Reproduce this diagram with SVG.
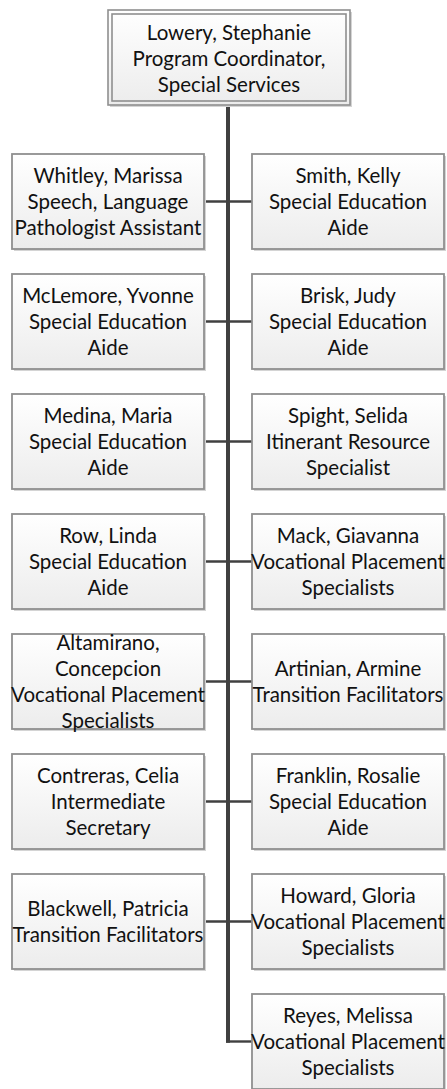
<svg xmlns="http://www.w3.org/2000/svg" width="447" height="1089" viewBox="0 0 447 1089">
<defs>
<linearGradient id="fillg" x1="0" y1="0" x2="0" y2="1">
<stop offset="0" stop-color="#ffffff"/>
<stop offset="1" stop-color="#ececec"/>
</linearGradient>
<style>
.bg{fill:#ffffff}
.box{fill:url(#fillg);stroke:#8f8f8f;stroke-width:1.8}
.shadow{fill:#d4d4d4}
.dbl{fill:none;stroke:#8f8f8f;stroke-width:1.6}
.t{font-family:Lato,"Liberation Sans",sans-serif;font-size:20.5px;fill:#111111;text-anchor:middle}
.trunk{stroke:#404040;stroke-width:4;fill:none}
.conn{stroke:#404040;stroke-width:2.4;fill:none}
</style>
</defs>
<rect class="bg" x="0" y="0" width="447" height="1089"/>

<g id="connectors">
<line class="trunk" x1="228" y1="105" x2="228" y2="1042.7"/>
<line class="conn" x1="204" y1="201.5" x2="252" y2="201.5"/>
<line class="conn" x1="204" y1="321.5" x2="252" y2="321.5"/>
<line class="conn" x1="204" y1="441.5" x2="252" y2="441.5"/>
<line class="conn" x1="204" y1="561.5" x2="252" y2="561.5"/>
<line class="conn" x1="204" y1="681.5" x2="252" y2="681.5"/>
<line class="conn" x1="204" y1="801.5" x2="252" y2="801.5"/>
<line class="conn" x1="204" y1="921.5" x2="252" y2="921.5"/>
<line class="conn" x1="226" y1="1041.5" x2="252" y2="1041.5"/>
</g>

<g id="n-lowery">
<rect class="shadow" x="110" y="12" width="242" height="95"/>
<rect x="108" y="10" width="242" height="95" fill="url(#fillg)"/>
<rect class="dbl" x="108" y="10" width="242" height="95"/>
<rect class="dbl" x="112" y="14" width="234" height="87"/>
<text class="t" x="229" y="39.5">Lowery, Stephanie</text>
<text class="t" x="229" y="65.5">Program Coordinator,</text>
<text class="t" x="229" y="91.5">Special Services</text>
</g>

<g id="n-whitley">
<rect class="shadow" x="14" y="156" width="192" height="95"/>
<rect class="box" x="12" y="154" width="192" height="95"/>
<text class="t" x="108" y="183">Whitley, Marissa</text>
<text class="t" x="108" y="209">Speech, Language</text>
<text class="t" x="108" y="235">Pathologist Assistant</text>
</g>
<g id="n-smith">
<rect class="shadow" x="254" y="156" width="192" height="95"/>
<rect class="box" x="252" y="154" width="192" height="95"/>
<text class="t" x="348" y="183">Smith, Kelly</text>
<text class="t" x="348" y="209">Special Education</text>
<text class="t" x="348" y="235">Aide</text>
</g>

<g id="n-mclemore">
<rect class="shadow" x="14" y="276" width="192" height="95"/>
<rect class="box" x="12" y="274" width="192" height="95"/>
<text class="t" x="108" y="303">McLemore, Yvonne</text>
<text class="t" x="108" y="329">Special Education</text>
<text class="t" x="108" y="355">Aide</text>
</g>
<g id="n-brisk">
<rect class="shadow" x="254" y="276" width="192" height="95"/>
<rect class="box" x="252" y="274" width="192" height="95"/>
<text class="t" x="348" y="303">Brisk, Judy</text>
<text class="t" x="348" y="329">Special Education</text>
<text class="t" x="348" y="355">Aide</text>
</g>

<g id="n-medina">
<rect class="shadow" x="14" y="396" width="192" height="95"/>
<rect class="box" x="12" y="394" width="192" height="95"/>
<text class="t" x="108" y="423">Medina, Maria</text>
<text class="t" x="108" y="449">Special Education</text>
<text class="t" x="108" y="475">Aide</text>
</g>
<g id="n-spight">
<rect class="shadow" x="254" y="396" width="192" height="95"/>
<rect class="box" x="252" y="394" width="192" height="95"/>
<text class="t" x="348" y="423">Spight, Selida</text>
<text class="t" x="348" y="449">Itinerant Resource</text>
<text class="t" x="348" y="475">Specialist</text>
</g>

<g id="n-row">
<rect class="shadow" x="14" y="516" width="192" height="95"/>
<rect class="box" x="12" y="514" width="192" height="95"/>
<text class="t" x="108" y="543">Row, Linda</text>
<text class="t" x="108" y="569">Special Education</text>
<text class="t" x="108" y="595">Aide</text>
</g>
<g id="n-mack">
<rect class="shadow" x="254" y="516" width="192" height="95"/>
<rect class="box" x="252" y="514" width="192" height="95"/>
<text class="t" x="348" y="543">Mack, Giavanna</text>
<text class="t" x="348" y="569">Vocational Placement</text>
<text class="t" x="348" y="595">Specialists</text>
</g>

<g id="n-altamirano">
<rect class="shadow" x="14" y="636" width="192" height="95"/>
<rect class="box" x="12" y="634" width="192" height="95"/>
<text class="t" x="108" y="650">Altamirano,</text>
<text class="t" x="108" y="676">Concepcion</text>
<text class="t" x="108" y="702">Vocational Placement</text>
<text class="t" x="108" y="728">Specialists</text>
</g>
<g id="n-artinian">
<rect class="shadow" x="254" y="636" width="192" height="95"/>
<rect class="box" x="252" y="634" width="192" height="95"/>
<text class="t" x="348" y="676">Artinian, Armine</text>
<text class="t" x="348" y="702">Transition Facilitators</text>
</g>

<g id="n-contreras">
<rect class="shadow" x="14" y="756" width="192" height="95"/>
<rect class="box" x="12" y="754" width="192" height="95"/>
<text class="t" x="108" y="783">Contreras, Celia</text>
<text class="t" x="108" y="809">Intermediate</text>
<text class="t" x="108" y="835">Secretary</text>
</g>
<g id="n-franklin">
<rect class="shadow" x="254" y="756" width="192" height="95"/>
<rect class="box" x="252" y="754" width="192" height="95"/>
<text class="t" x="348" y="783">Franklin, Rosalie</text>
<text class="t" x="348" y="809">Special Education</text>
<text class="t" x="348" y="835">Aide</text>
</g>

<g id="n-blackwell">
<rect class="shadow" x="14" y="876" width="192" height="95"/>
<rect class="box" x="12" y="874" width="192" height="95"/>
<text class="t" x="108" y="916">Blackwell, Patricia</text>
<text class="t" x="108" y="942">Transition Facilitators</text>
</g>
<g id="n-howard">
<rect class="shadow" x="254" y="876" width="192" height="95"/>
<rect class="box" x="252" y="874" width="192" height="95"/>
<text class="t" x="348" y="903">Howard, Gloria</text>
<text class="t" x="348" y="929">Vocational Placement</text>
<text class="t" x="348" y="955">Specialists</text>
</g>

<g id="n-reyes">
<rect class="shadow" x="254" y="996" width="192" height="95"/>
<rect class="box" x="252" y="994" width="192" height="95"/>
<text class="t" x="348" y="1023">Reyes, Melissa</text>
<text class="t" x="348" y="1049">Vocational Placement</text>
<text class="t" x="348" y="1075">Specialists</text>
</g>
</svg>
